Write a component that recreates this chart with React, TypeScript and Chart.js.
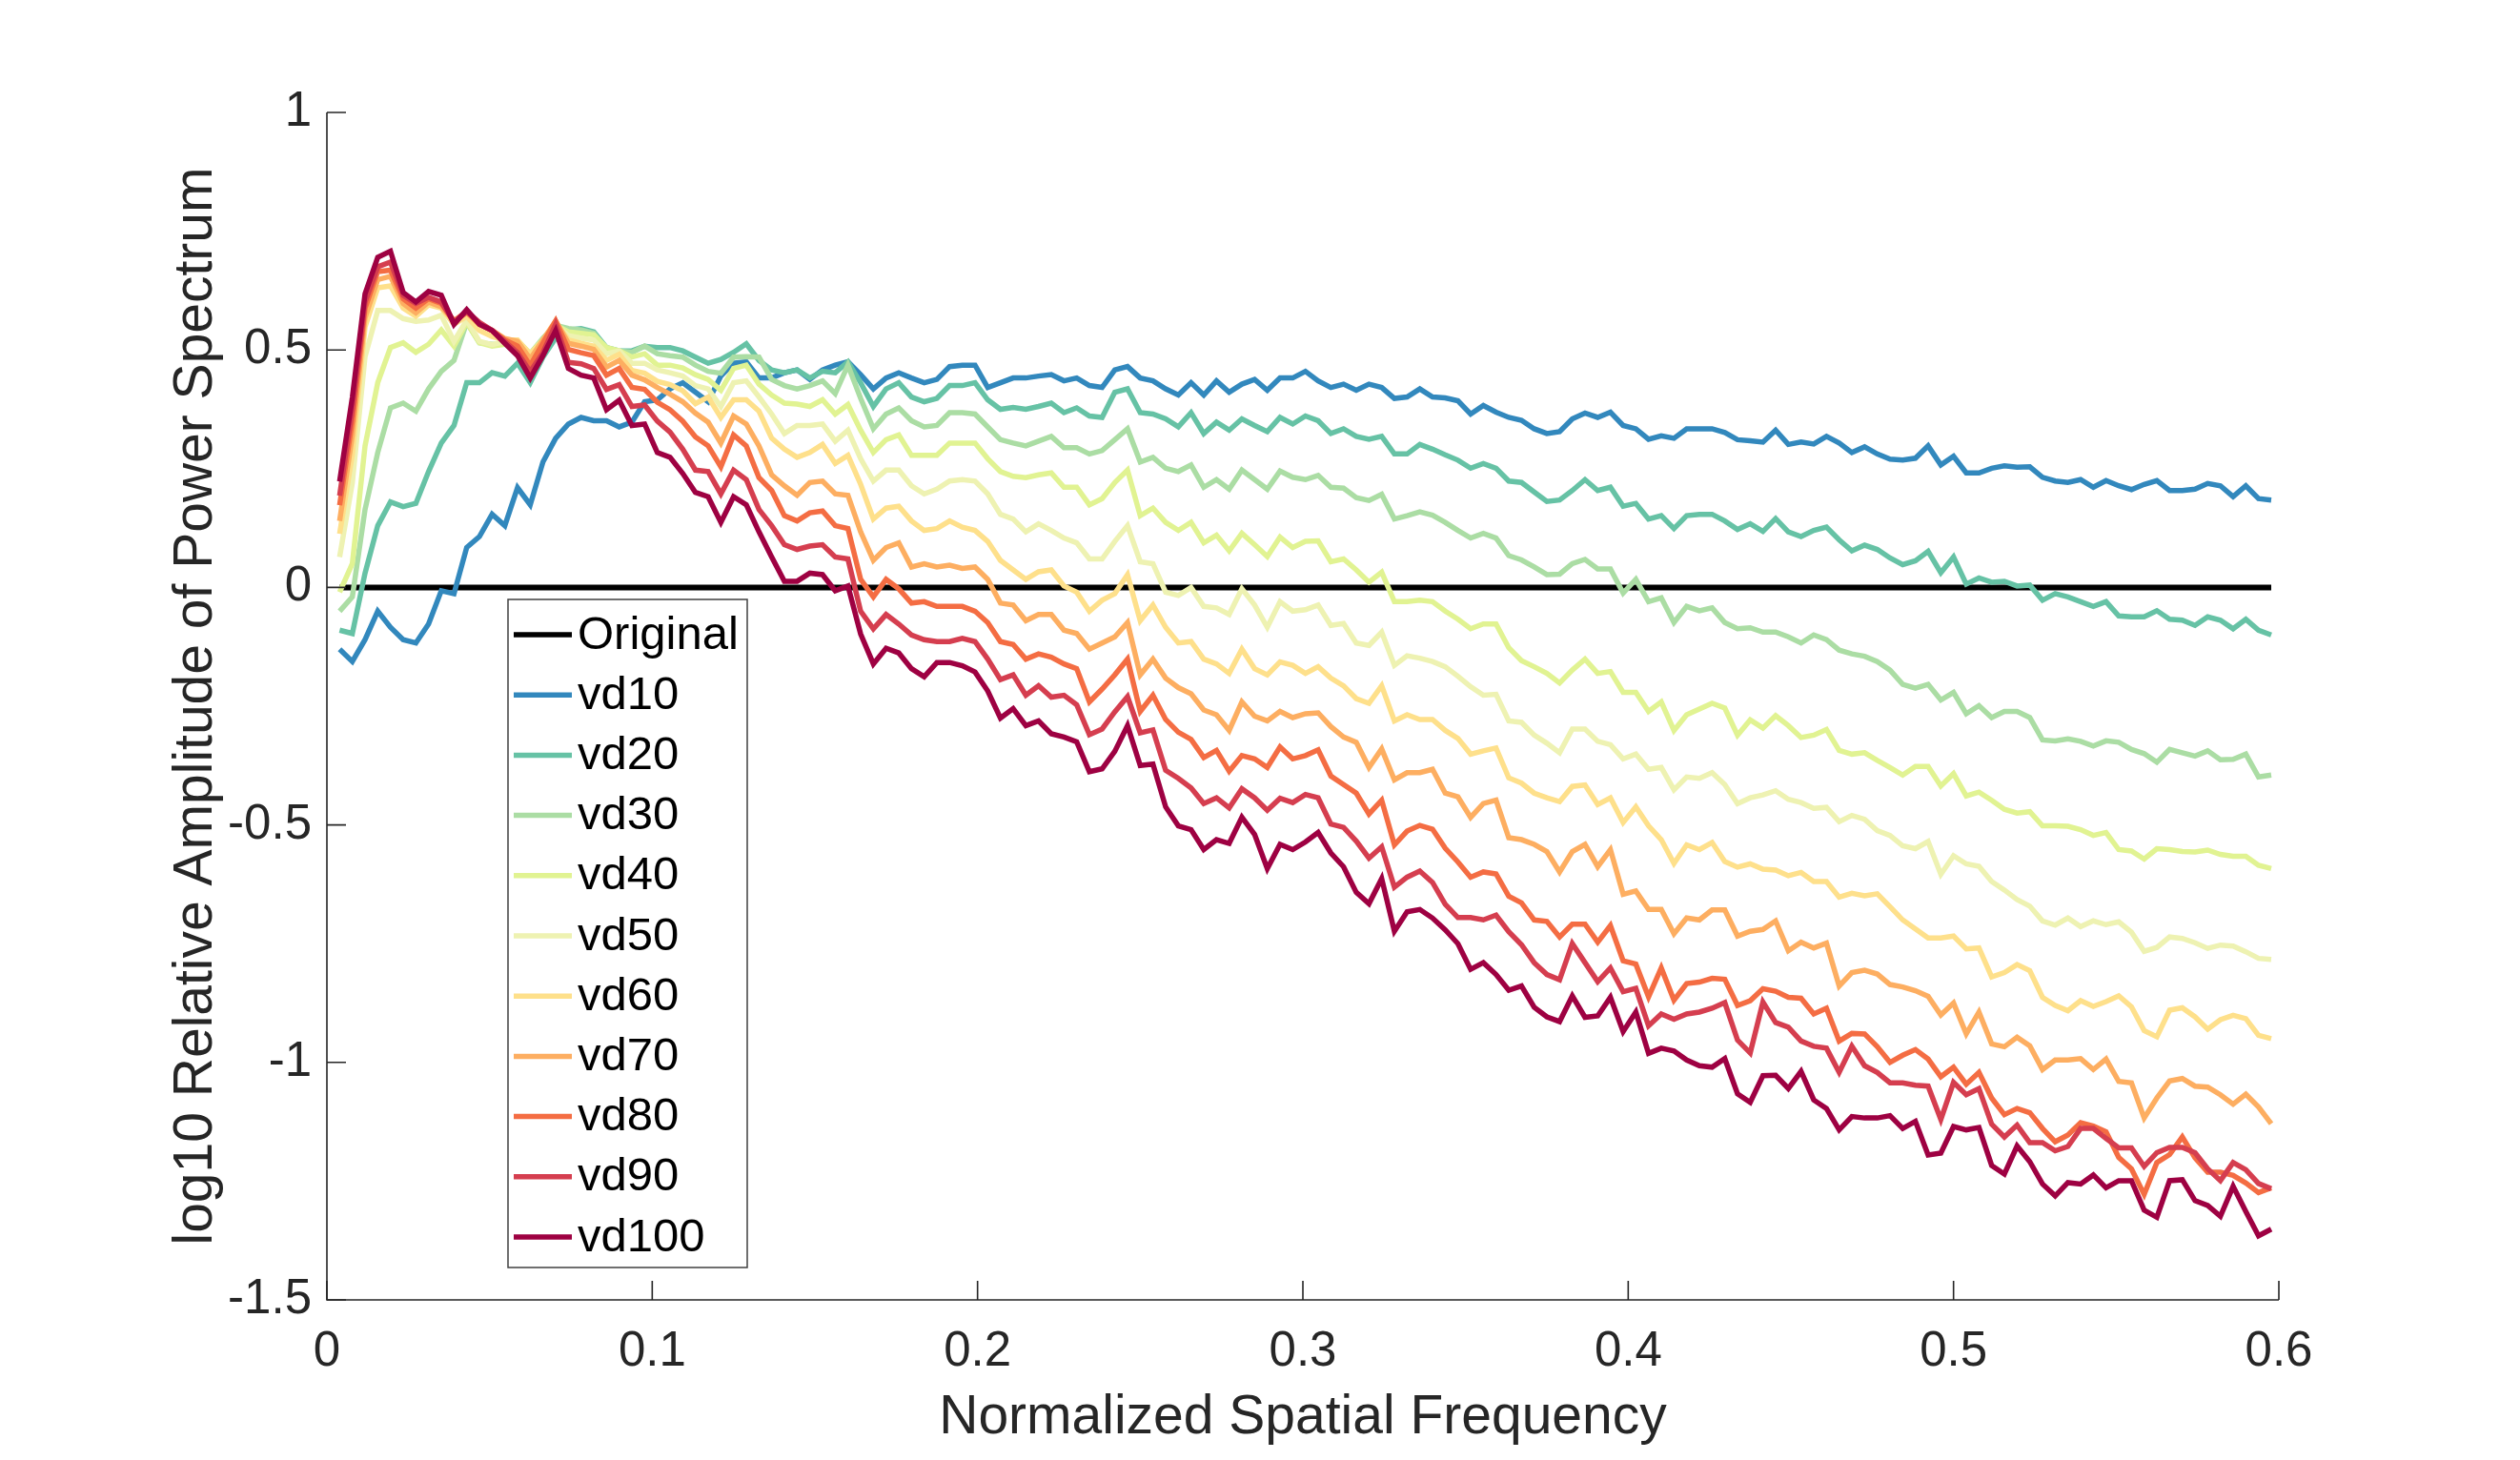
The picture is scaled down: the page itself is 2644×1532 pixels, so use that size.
import React, { useEffect, useRef } from "react";
import { Chart, registerables } from "chart.js";

Chart.register(...registerables);

// Sample grid: normalized spatial frequency k/256, k = 1..153
const FREQ_STEP = 1 / 256;

const VD10 = [
  -0.13, -0.156, -0.11, -0.05, -0.084, -0.11, -0.117, -0.077, -0.007, -0.013,
  0.084, 0.107, 0.154, 0.13, 0.21, 0.174, 0.264, 0.314, 0.344, 0.358,
  0.351, 0.351, 0.338, 0.348, 0.391, 0.395, 0.418, 0.431, 0.411,
  0.391, 0.445,
  0.472, 0.475, 0.441, 0.441, 0.452, 0.458, 0.438, 0.458, 0.468, 0.475,
  0.448, 0.418, 0.441, 0.452, 0.441, 0.431, 0.438, 0.465, 0.468, 0.468,
  0.421, 0.431, 0.441, 0.441, 0.445, 0.448, 0.435, 0.441, 0.425, 0.421,
  0.458, 0.465, 0.441, 0.435, 0.418, 0.405,
  0.431,
  0.405, 0.435, 0.411, 0.428, 0.438, 0.415, 0.441, 0.441, 0.455, 0.435,
  0.421, 0.428, 0.415, 0.428, 0.421, 0.398, 0.401, 0.418, 0.401, 0.399,
  0.393, 0.365, 0.383, 0.369, 0.358, 0.352, 0.334, 0.324, 0.328, 0.355,
  0.367, 0.358, 0.369, 0.341, 0.334, 0.312, 0.319, 0.314,
  0.334, 0.334, 0.334, 0.326, 0.311, 0.309, 0.306, 0.331, 0.301, 0.306,
  0.302, 0.318, 0.304, 0.284, 0.296, 0.281, 0.27, 0.268, 0.272, 0.298,
  0.258, 0.276, 0.241, 0.241, 0.251, 0.256, 0.253, 0.254, 0.232, 0.224,
  0.221, 0.227, 0.211, 0.225, 0.214, 0.206, 0.217, 0.225, 0.204, 0.204,
  0.207, 0.219, 0.214, 0.191, 0.214, 0.187, 0.184,
];

const VD20 = [
  -0.09, -0.097, 0.03, 0.13, 0.18, 0.17, 0.177, 0.244, 0.304, 0.341,
  0.431, 0.431, 0.452, 0.445, 0.472, 0.431, 0.485, 0.525, 0.542, 0.545,
  0.538, 0.505, 0.498, 0.498, 0.508, 0.505, 0.505, 0.498, 0.485,
  0.472, 0.48,
  0.495, 0.513, 0.478, 0.458, 0.452, 0.458, 0.441, 0.455, 0.452, 0.475,
  0.431, 0.381, 0.418, 0.431, 0.401, 0.391, 0.398, 0.425, 0.425, 0.431,
  0.395, 0.375, 0.379, 0.375, 0.381, 0.388, 0.368, 0.378, 0.361, 0.358,
  0.411, 0.418, 0.368, 0.365, 0.355, 0.338,
  0.368,
  0.324, 0.348, 0.331, 0.355, 0.341, 0.328, 0.358, 0.344, 0.361, 0.351,
  0.324, 0.334, 0.318, 0.312, 0.318, 0.281, 0.281, 0.301, 0.291, 0.279,
  0.268, 0.251, 0.261, 0.251, 0.224, 0.221, 0.201, 0.181, 0.184, 0.204,
  0.227, 0.204, 0.211, 0.171, 0.177, 0.144, 0.151, 0.124,
  0.151, 0.154, 0.154, 0.14, 0.122, 0.134, 0.118, 0.145, 0.117, 0.107,
  0.12, 0.127, 0.1, 0.077, 0.089, 0.08, 0.062, 0.048, 0.056, 0.076,
  0.031, 0.064, 0.007, 0.02, 0.011, 0.013, 0.003, 0.005, -0.027, -0.013,
  -0.02, -0.03, -0.04, -0.03, -0.06, -0.062, -0.062, -0.049, -0.067, -0.069,
  -0.08, -0.062, -0.069, -0.087, -0.067, -0.09, -0.1,
];

const VD30 = [
  -0.05, -0.02, 0.164, 0.284, 0.378, 0.388, 0.371, 0.418, 0.455, 0.478,
  0.558, 0.515, 0.512, 0.512, 0.518, 0.492, 0.525, 0.552, 0.545, 0.542,
  0.535, 0.502, 0.498, 0.495, 0.508, 0.492, 0.488, 0.485, 0.468,
  0.455, 0.451,
  0.485, 0.486, 0.485, 0.438, 0.425, 0.418, 0.425, 0.435, 0.408, 0.468,
  0.398, 0.334, 0.365, 0.378, 0.351, 0.338, 0.341, 0.368, 0.368, 0.365,
  0.338, 0.311, 0.304, 0.298, 0.308, 0.318, 0.294, 0.294, 0.281, 0.288,
  0.311, 0.334, 0.264, 0.274, 0.251, 0.244,
  0.258,
  0.211, 0.227, 0.207, 0.247, 0.227, 0.207, 0.245, 0.232, 0.227, 0.236,
  0.211, 0.209, 0.189, 0.183, 0.196, 0.144, 0.151, 0.159, 0.152, 0.137,
  0.12, 0.104, 0.114, 0.104, 0.067, 0.058, 0.043, 0.027, 0.028, 0.05,
  0.059, 0.039, 0.039, -0.012, 0.017, -0.03, -0.022, -0.074,
  -0.04, -0.049, -0.043, -0.074, -0.087, -0.085, -0.094, -0.094, -0.104, -0.117,
  -0.1, -0.11, -0.132, -0.14, -0.145, -0.156, -0.174, -0.204, -0.212, -0.204,
  -0.237, -0.221, -0.266, -0.249, -0.274, -0.261, -0.261, -0.274, -0.321, -0.323,
  -0.319, -0.324, -0.334, -0.323, -0.326, -0.341, -0.35, -0.368, -0.341, -0.348,
  -0.355, -0.344, -0.363, -0.362, -0.351, -0.399, -0.395,
];

const VD40 = [
  -0.01, 0.05, 0.298, 0.431, 0.505, 0.515, 0.495, 0.512, 0.542, 0.508,
  0.558, 0.515, 0.508, 0.512, 0.518, 0.492, 0.522, 0.552, 0.538, 0.535,
  0.532, 0.505, 0.498, 0.485, 0.492, 0.468, 0.468, 0.462, 0.448,
  0.438, 0.415,
  0.461, 0.468, 0.428, 0.405, 0.388, 0.386, 0.381, 0.395, 0.365, 0.385,
  0.331, 0.284, 0.311, 0.321, 0.278, 0.278, 0.278, 0.304, 0.304, 0.304,
  0.271, 0.244, 0.234, 0.231, 0.237, 0.241, 0.211, 0.211, 0.174, 0.187,
  0.221, 0.247, 0.151, 0.167, 0.137, 0.12,
  0.137,
  0.094, 0.11, 0.077, 0.114, 0.09, 0.065, 0.106, 0.084, 0.097, 0.098,
  0.054, 0.06, 0.037, 0.011, 0.032, -0.03, -0.03, -0.027, -0.03, -0.05,
  -0.067, -0.087, -0.077, -0.077, -0.127, -0.154, -0.167, -0.181, -0.201, -0.174,
  -0.151, -0.181, -0.177, -0.221, -0.221, -0.261, -0.241, -0.301,
  -0.268, -0.256, -0.244, -0.254, -0.311, -0.279, -0.296, -0.27, -0.291, -0.316,
  -0.311, -0.299, -0.343, -0.351, -0.348, -0.364, -0.379, -0.395, -0.377, -0.377,
  -0.418, -0.392, -0.439, -0.431, -0.448, -0.467, -0.475, -0.472, -0.502, -0.502,
  -0.503, -0.51, -0.522, -0.516, -0.552, -0.555, -0.572, -0.55, -0.552, -0.556,
  -0.557, -0.553, -0.562, -0.566, -0.566, -0.585, -0.592,
];

const VD50 = [
  0.064, 0.22, 0.486, 0.583, 0.583, 0.566, 0.56, 0.563, 0.573, 0.518,
  0.563, 0.518, 0.511, 0.518, 0.518, 0.485, 0.518, 0.552, 0.53, 0.525,
  0.521, 0.492, 0.498, 0.472, 0.472, 0.458, 0.452, 0.445, 0.425,
  0.418, 0.381,
  0.431, 0.435, 0.401, 0.365, 0.324, 0.341, 0.341, 0.344, 0.308, 0.331,
  0.271, 0.224, 0.247, 0.247, 0.214, 0.197, 0.207, 0.224, 0.227, 0.224,
  0.197, 0.154, 0.144, 0.117, 0.134, 0.12, 0.104, 0.094, 0.06, 0.06,
  0.097, 0.13, 0.054, 0.05, -0.01, -0.017,
  0.0,
  -0.04, -0.043, -0.057, -0.003, -0.037, -0.084, -0.03, -0.05, -0.047, -0.037,
  -0.08, -0.076, -0.117, -0.122, -0.094, -0.164, -0.144, -0.149, -0.156, -0.167,
  -0.187, -0.209, -0.227, -0.225, -0.281, -0.284, -0.311, -0.328, -0.348, -0.298,
  -0.298, -0.324, -0.331, -0.361, -0.351, -0.383, -0.379, -0.426,
  -0.399, -0.402, -0.39, -0.415, -0.455, -0.443, -0.437, -0.428, -0.446, -0.453,
  -0.465, -0.463, -0.493, -0.48, -0.488, -0.512, -0.522, -0.544, -0.55, -0.535,
  -0.604, -0.565, -0.582, -0.587, -0.619, -0.637, -0.657, -0.671, -0.702, -0.711,
  -0.696, -0.714, -0.702, -0.71, -0.704, -0.726, -0.766, -0.758, -0.736, -0.739,
  -0.748, -0.76, -0.753, -0.755, -0.767, -0.781, -0.783,
];

const VD60 = [
  0.113, 0.28, 0.548, 0.631, 0.635, 0.588, 0.571, 0.595, 0.588, 0.554,
  0.571, 0.541, 0.528, 0.521, 0.521, 0.491, 0.521, 0.558, 0.521, 0.514,
  0.508, 0.478, 0.491, 0.457, 0.451, 0.434, 0.427, 0.414, 0.387,
  0.401, 0.358,
  0.395, 0.395, 0.371, 0.314, 0.291, 0.274, 0.284, 0.301, 0.261, 0.278,
  0.217, 0.144, 0.167, 0.171, 0.14, 0.12, 0.124, 0.14, 0.127, 0.12,
  0.097, 0.057, 0.037, 0.017, 0.033, 0.037, 0.003, -0.01, -0.05, -0.027,
  -0.013, 0.027, -0.07, -0.037, -0.084, -0.117,
  -0.114,
  -0.151, -0.161, -0.181, -0.13, -0.171, -0.184, -0.157, -0.164, -0.181, -0.167,
  -0.191, -0.207, -0.234, -0.244, -0.207, -0.281, -0.268, -0.278, -0.278, -0.301,
  -0.318, -0.351, -0.344, -0.338, -0.401, -0.412, -0.433, -0.443, -0.451, -0.419,
  -0.416, -0.457, -0.443, -0.495, -0.462, -0.502, -0.531, -0.581,
  -0.542, -0.552, -0.537, -0.577, -0.589, -0.582, -0.593, -0.595, -0.607, -0.6,
  -0.619, -0.619, -0.652, -0.644, -0.649, -0.645, -0.672, -0.7, -0.719, -0.738,
  -0.738, -0.734, -0.761, -0.759, -0.82, -0.811, -0.794, -0.807, -0.863, -0.88,
  -0.891, -0.87, -0.882, -0.872, -0.86, -0.883, -0.933, -0.946, -0.89, -0.885,
  -0.904, -0.93, -0.91, -0.901, -0.908, -0.943, -0.95,
];

const VD70 = [
  0.14, 0.32, 0.568, 0.648, 0.655, 0.598, 0.578, 0.601, 0.591, 0.561,
  0.578, 0.554, 0.541, 0.524, 0.518, 0.481, 0.521, 0.561, 0.514, 0.508,
  0.501, 0.464, 0.478, 0.447, 0.437, 0.421, 0.407, 0.391, 0.367,
  0.348, 0.304,
  0.361, 0.344, 0.298, 0.237, 0.214, 0.194, 0.221, 0.224, 0.197, 0.194,
  0.117, 0.057, 0.084, 0.094, 0.043, 0.05, 0.043, 0.047, 0.04, 0.043,
  0.017, -0.033, -0.037, -0.07, -0.057, -0.057, -0.09, -0.097, -0.13, -0.117,
  -0.104, -0.074, -0.184, -0.151, -0.191, -0.211,
  -0.224,
  -0.258, -0.268, -0.301, -0.241, -0.271, -0.281, -0.261, -0.274, -0.266, -0.264,
  -0.293, -0.315, -0.326, -0.379, -0.34, -0.405, -0.39, -0.39, -0.383, -0.433,
  -0.441, -0.484, -0.455, -0.448, -0.527, -0.531, -0.541, -0.556, -0.599, -0.556,
  -0.541, -0.588, -0.552, -0.646, -0.639, -0.678, -0.678, -0.729,
  -0.696, -0.7, -0.679, -0.679, -0.734, -0.724, -0.72, -0.702, -0.765, -0.747,
  -0.759, -0.749, -0.839, -0.811, -0.806, -0.814, -0.836, -0.841, -0.849, -0.861,
  -0.9, -0.875, -0.94, -0.894, -0.961, -0.967, -0.947, -0.965, -1.015, -0.995,
  -0.995, -0.992, -1.015, -0.993, -1.04, -1.043, -1.117, -1.075, -1.039, -1.034,
  -1.05, -1.052, -1.068, -1.088, -1.067, -1.094, -1.129,
];

const VD80 = [
  0.173, 0.35, 0.588, 0.665, 0.668, 0.608, 0.588, 0.608, 0.598, 0.561,
  0.581, 0.554, 0.541, 0.521, 0.508, 0.467, 0.514, 0.561, 0.501, 0.494,
  0.488, 0.447, 0.461, 0.421, 0.417, 0.39, 0.374, 0.35, 0.317,
  0.298, 0.254,
  0.321, 0.298, 0.231, 0.204, 0.151, 0.14, 0.157, 0.161, 0.13, 0.124,
  0.017, -0.02, 0.017, -0.003, -0.033, -0.03, -0.04, -0.04, -0.04, -0.05,
  -0.074, -0.114, -0.12, -0.151, -0.14, -0.147, -0.161, -0.171, -0.241, -0.214,
  -0.184, -0.151, -0.261, -0.227,
  -0.278, -0.305, -0.32,
  -0.358, -0.343, -0.387, -0.354, -0.361, -0.379, -0.336, -0.361, -0.354, -0.342,
  -0.397, -0.415, -0.433, -0.477, -0.448, -0.542, -0.513, -0.501, -0.509, -0.549,
  -0.578, -0.61, -0.599, -0.603, -0.65, -0.664, -0.7, -0.703, -0.736, -0.709,
  -0.709, -0.747, -0.712, -0.786, -0.793, -0.862, -0.801, -0.869,
  -0.834, -0.831, -0.823, -0.825, -0.88, -0.87, -0.845, -0.85, -0.863, -0.865,
  -0.898, -0.886, -0.955, -0.939, -0.94, -0.967, -1.0, -0.985, -0.973, -0.993,
  -1.03, -1.01, -1.046, -1.021, -1.075, -1.11, -1.097, -1.106, -1.139, -1.167,
  -1.153, -1.127, -1.134, -1.146, -1.2, -1.224, -1.278, -1.211, -1.194, -1.157,
  -1.201, -1.231, -1.231, -1.238, -1.254, -1.274, -1.264,
];

const VD90 = [
  0.193, 0.375, 0.601, 0.675, 0.685, 0.615, 0.598, 0.611, 0.601, 0.558,
  0.581, 0.558, 0.541, 0.518, 0.494, 0.454, 0.494, 0.554, 0.474, 0.471,
  0.461, 0.417, 0.427, 0.381, 0.384, 0.35, 0.327, 0.291, 0.247,
  0.244, 0.197,
  0.247, 0.227, 0.164, 0.13, 0.09, 0.08, 0.087, 0.09, 0.064, 0.06,
  -0.05, -0.087, -0.057, -0.077, -0.1, -0.11, -0.114, -0.114, -0.107, -0.114,
  -0.151, -0.194, -0.184, -0.227, -0.207, -0.231, -0.227, -0.247, -0.31, -0.298,
  -0.262, -0.23, -0.306, -0.3,
  -0.385, -0.402, -0.422,
  -0.455, -0.443, -0.464, -0.424, -0.443, -0.469, -0.444, -0.453, -0.436, -0.443,
  -0.498, -0.505, -0.534, -0.57, -0.546, -0.631, -0.61, -0.597, -0.621, -0.667,
  -0.695, -0.695, -0.7, -0.69, -0.725, -0.752, -0.79, -0.815, -0.826, -0.75,
  -0.79, -0.83, -0.801, -0.851, -0.844, -0.923, -0.898, -0.909,
  -0.898, -0.894, -0.886, -0.874, -0.953, -0.98, -0.873, -0.916, -0.926, -0.955,
  -0.966, -0.97, -1.021, -0.966, -1.007, -1.021, -1.043, -1.043, -1.048, -1.05,
  -1.12, -1.042, -1.068, -1.055, -1.13, -1.157, -1.132, -1.169, -1.169, -1.186,
  -1.177, -1.139, -1.139, -1.16, -1.18, -1.18, -1.219, -1.19, -1.179, -1.179,
  -1.19, -1.224, -1.249, -1.211, -1.226, -1.255, -1.266,
];

const VD100 = [
  0.223, 0.4, 0.618, 0.695, 0.708, 0.621, 0.601, 0.623, 0.615, 0.554,
  0.585, 0.554, 0.541, 0.514, 0.488, 0.441, 0.488, 0.541, 0.461, 0.447,
  0.441, 0.374, 0.394, 0.341, 0.344, 0.284, 0.274, 0.24, 0.2,
  0.191, 0.137,
  0.191, 0.174, 0.117, 0.064, 0.013, 0.013, 0.03, 0.027, -0.007, 0.003,
  -0.098, -0.161, -0.128, -0.138, -0.171, -0.188, -0.158, -0.158, -0.165, -0.178,
  -0.218, -0.275, -0.255, -0.291, -0.281, -0.308, -0.315, -0.325, -0.388, -0.382,
  -0.345, -0.291, -0.375, -0.372, -0.462, -0.502,
  -0.51,
  -0.552, -0.531, -0.539, -0.484, -0.52, -0.592, -0.541, -0.552, -0.536, -0.516,
  -0.559, -0.588, -0.642, -0.666, -0.613, -0.724, -0.683, -0.678, -0.696, -0.721,
  -0.75, -0.804, -0.79, -0.815, -0.848, -0.839, -0.884, -0.904, -0.914, -0.86,
  -0.905, -0.902, -0.863, -0.935, -0.894, -0.981, -0.97, -0.976,
  -0.995, -1.007, -1.01, -0.992, -1.066, -1.084, -1.028, -1.027, -1.055, -1.019,
  -1.079, -1.097, -1.142, -1.114, -1.117, -1.117, -1.112, -1.139, -1.124, -1.195,
  -1.191, -1.135, -1.142, -1.137, -1.217, -1.235, -1.176, -1.209, -1.256, -1.281,
  -1.253, -1.256, -1.237, -1.264, -1.249, -1.249, -1.311, -1.326, -1.249, -1.247,
  -1.291, -1.301, -1.324, -1.261, -1.314, -1.365, -1.351,
];

const ORIGINAL_LEVEL = 0;

const SERIES_LABELS = ["vd10", "vd20", "vd30", "vd40", "vd50", "vd60", "vd70", "vd80", "vd90", "vd100"];
const SERIES_VALUES = [VD10, VD20, VD30, VD40, VD50, VD60, VD70, VD80, VD90, VD100];
const SERIES_COLORS = [
  "#3288bd", "#66c2a5", "#abdda4", "#e1f392", "#eef2b2",
  "#fee08b", "#fdae61", "#f46d43", "#d53e4f", "#9e0142",
];

const X_TITLE = "Normalized Spatial Frequency";
const Y_TITLE = "log10 Relative Amplitude of Power Spectrum";

const FONT = '"Liberation Sans", Arial, Helvetica, sans-serif';
const AXIS_COLOR = "#262626";

export default function App() {
  const ref = useRef<HTMLCanvasElement | null>(null);

  useEffect(() => {
    const canvas = ref.current;
    if (!canvas) return;
    const freq = VD10.map((_, i) => (i + 1) * FREQ_STEP);

    const datasets: any[] = [
      {
        label: "Original",
        data: freq.map((f) => ({ x: f, y: ORIGINAL_LEVEL })),
        borderColor: "#000000",
        borderWidth: 6,
        pointRadius: 0,
        tension: 0,
        order: 20,
        legendIndex: 0,
      },
    ];
    SERIES_VALUES.forEach((vals, si) => {
      datasets.push({
        label: SERIES_LABELS[si],
        data: vals.map((v, i) => ({ x: freq[i], y: v })),
        borderColor: SERIES_COLORS[si],
        borderWidth: 5.5,
        pointRadius: 0,
        tension: 0,
        order: 10 - si,
        legendIndex: si + 1,
      });
    });

    const decor = {
      id: "decor",
      afterDraw(chart: any) {
        const { ctx, chartArea: a, scales } = chart;
        ctx.save();
        ctx.strokeStyle = AXIS_COLOR;
        ctx.lineWidth = 1.6;
        ctx.beginPath();
        ctx.moveTo(a.left, a.top);
        ctx.lineTo(a.left, a.bottom);
        ctx.lineTo(a.right, a.bottom);
        ctx.stroke();
        const TL = 20;
        ctx.beginPath();
        scales.x.ticks.forEach((t: any) => {
          const px = scales.x.getPixelForValue(t.value);
          ctx.moveTo(px, a.bottom);
          ctx.lineTo(px, a.bottom - TL);
        });
        scales.y.ticks.forEach((t: any) => {
          const py = scales.y.getPixelForValue(t.value);
          ctx.moveTo(a.left, py);
          ctx.lineTo(a.left + TL, py);
        });
        ctx.stroke();

        ctx.fillStyle = AXIS_COLOR;
        ctx.font = `57px ${FONT}`;
        ctx.textAlign = "center";
        ctx.textBaseline = "middle";
        ctx.fillText(X_TITLE, (a.left + a.right) / 2, a.bottom + 124);
        ctx.save();
        ctx.translate(a.left - 137, (a.top + a.bottom) / 2);
        ctx.rotate(-Math.PI / 2);
        ctx.fillText(Y_TITLE, 0, 0);
        ctx.restore();

        const bx = a.left + 190;
        const by = a.top + 511;
        const bw = 251;
        const bh = 701;
        ctx.fillStyle = "#ffffff";
        ctx.fillRect(bx, by, bw, bh);
        ctx.strokeStyle = "#404040";
        ctx.lineWidth = 1.5;
        ctx.strokeRect(bx, by, bw, bh);
        const items = chart.data.datasets
          .slice()
          .sort((p: any, q: any) => p.legendIndex - q.legendIndex);
        ctx.font = `49px ${FONT}`;
        ctx.textAlign = "left";
        ctx.textBaseline = "middle";
        items.forEach((ds: any, i: number) => {
          const y = by + 37 + i * 63.2;
          ctx.strokeStyle = ds.borderColor;
          ctx.lineWidth = 5.5;
          ctx.beginPath();
          ctx.moveTo(bx + 6, y);
          ctx.lineTo(bx + 67, y);
          ctx.stroke();
          ctx.fillStyle = "#000000";
          ctx.fillText(ds.label, bx + 73, y + 1);
        });
        ctx.restore();
      },
    };

    const fmt = (v: any) => {
      const n = Math.round(Number(v) * 10) / 10;
      return String(n);
    };

    const chart = new Chart(canvas, {
      type: "line",
      data: { datasets },
      options: {
        animation: false,
        responsive: false,
        devicePixelRatio: 1,
        layout: { padding: { top: 118, right: 253, bottom: 0, left: 0 } },
        plugins: {
          legend: { display: false },
          tooltip: { enabled: false },
          title: { display: false },
        },
        scales: {
          x: {
            type: "linear",
            min: 0,
            max: 0.6,
            grid: { display: false, drawTicks: false },
            border: { display: false },
            ticks: {
              stepSize: 0.1,
              autoSkip: false,
              maxRotation: 0,
              padding: 24,
              color: AXIS_COLOR,
              font: { family: FONT, size: 51 },
              callback: fmt,
            },
            afterFit: (s: any) => {
              s.height = 168;
              s.paddingLeft = 0;
              s.paddingRight = 0;
            },
          },
          y: {
            type: "linear",
            min: -1.5,
            max: 1,
            grid: { display: false, drawTicks: false },
            border: { display: false },
            ticks: {
              stepSize: 0.5,
              autoSkip: false,
              padding: 16,
              color: AXIS_COLOR,
              font: { family: FONT, size: 51 },
              callback: fmt,
            },
            afterFit: (s: any) => {
              s.width = 343;
              s.paddingTop = 0;
              s.paddingBottom = 0;
            },
          },
        },
      },
      plugins: [decor],
    } as any);

    return () => chart.destroy();
  }, []);

  return (
    <div
      style={{
        position: "absolute",
        left: 0,
        top: 0,
        width: 2644,
        height: 1532,
        background: "#ffffff",
      }}
    >
      <canvas
        ref={ref}
        width={2644}
        height={1532}
        style={{ display: "block", width: 2644, height: 1532 }}
      />
    </div>
  );
}
